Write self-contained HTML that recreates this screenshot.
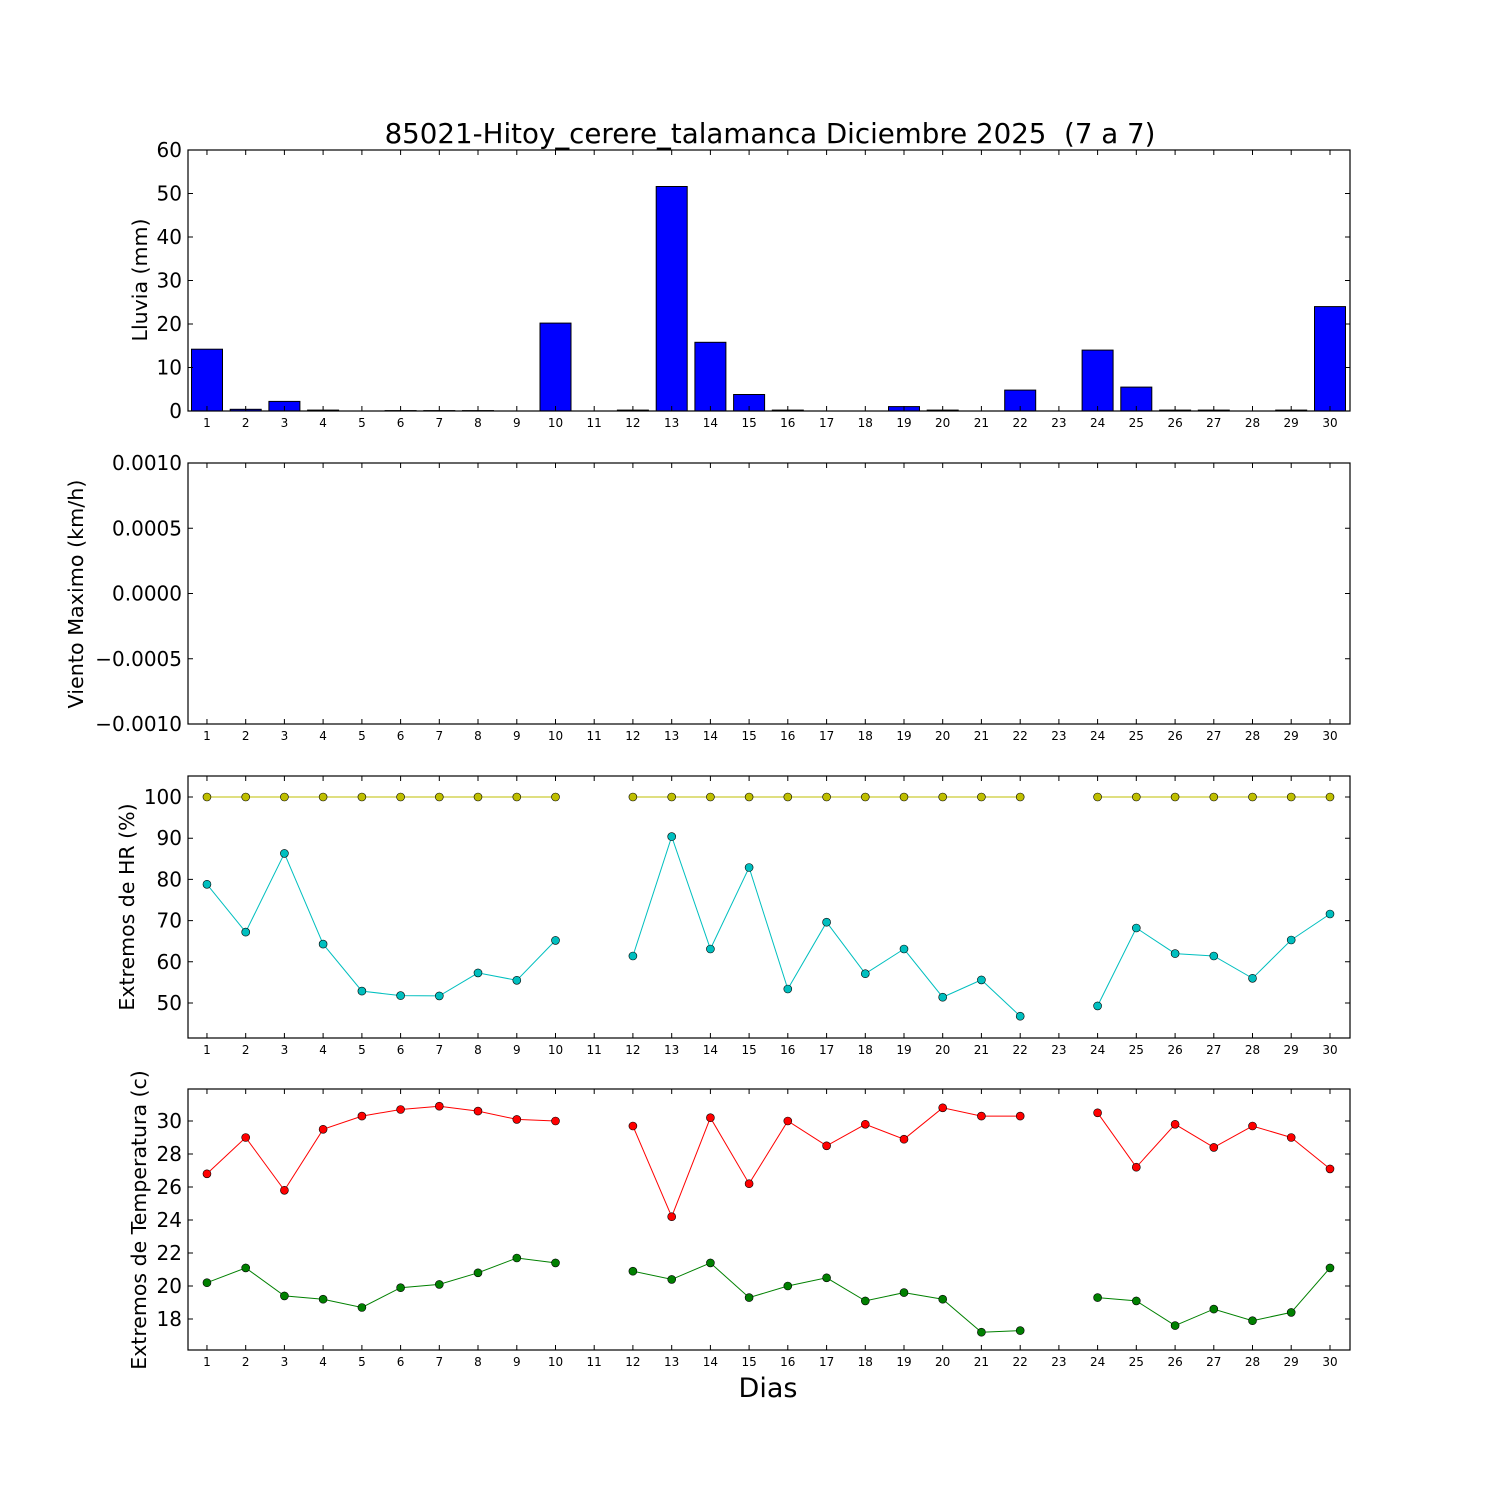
<!DOCTYPE html>
<html><head><meta charset="utf-8"><style>
html,body{margin:0;padding:0;background:#fff;}
svg{display:block;}
text{font-family:"DejaVu Sans","Liberation Sans",sans-serif;fill:#000;}
.xl{font-size:12px;text-anchor:middle;}
.yl{font-size:20px;text-anchor:end;}
.ax{fill:none;stroke:#000;stroke-width:1.2;}
.tk{fill:none;stroke:#000;stroke-width:1;}
</style></head><body>
<svg width="1500" height="1500" viewBox="0 0 1500 1500" xmlns="http://www.w3.org/2000/svg">
<defs>
<path id="xt" d="M206.96,0v-5M245.7,0v-5M284.4,0v-5M323.1,0v-5M361.9,0v-5M400.6,0v-5M439.3,0v-5M478,0v-5M516.8,0v-5M555.5,0v-5M594.2,0v-5M632.9,0v-5M671.7,0v-5M710.4,0v-5M749.1,0v-5M787.8,0v-5M826.6,0v-5M865.3,0v-5M904,0v-5M942.7,0v-5M981.4,0v-5M1020.2,0v-5M1058.9,0v-5M1097.6,0v-5M1136.3,0v-5M1175.1,0v-5M1213.8,0v-5M1252.5,0v-5M1291.2,0v-5M1330,0v-5" class="tk"/>
<g id="xlab">
<text x="207" class="xl">1</text><text x="245.7" class="xl">2</text><text x="284.4" class="xl">3</text><text x="323.1" class="xl">4</text><text x="361.9" class="xl">5</text><text x="400.6" class="xl">6</text><text x="439.3" class="xl">7</text><text x="478" class="xl">8</text><text x="516.8" class="xl">9</text><text x="555.5" class="xl">10</text><text x="594.2" class="xl">11</text><text x="632.9" class="xl">12</text><text x="671.7" class="xl">13</text><text x="710.4" class="xl">14</text><text x="749.1" class="xl">15</text><text x="787.8" class="xl">16</text><text x="826.6" class="xl">17</text><text x="865.3" class="xl">18</text><text x="904" class="xl">19</text><text x="942.7" class="xl">20</text><text x="981.4" class="xl">21</text><text x="1020.2" class="xl">22</text><text x="1058.9" class="xl">23</text><text x="1097.6" class="xl">24</text><text x="1136.3" class="xl">25</text><text x="1175.1" class="xl">26</text><text x="1213.8" class="xl">27</text><text x="1252.5" class="xl">28</text><text x="1291.2" class="xl">29</text><text x="1330" class="xl">30</text>
</g>
</defs>

<text x="770" y="143" style="font-size:27.7px;text-anchor:middle;white-space:pre" xml:space="preserve">85021-Hitoy_cerere_talamanca Diciembre 2025  (7 a 7)</text>

<!-- Panel 1 -->
<g fill="#0000ff" stroke="#000" stroke-width="1">
<rect x="191.5" y="349.2" width="31" height="61.8"/>
<rect x="230.2" y="409.3" width="31" height="1.7"/>
<rect x="268.9" y="401.4" width="31" height="9.6"/>
<rect x="307.6" y="410.1" width="31" height="0.9"/>
<rect x="385.1" y="410.6" width="31" height="0.4"/>
<rect x="423.8" y="410.6" width="31" height="0.4"/>
<rect x="462.5" y="410.6" width="31" height="0.4"/>
<rect x="540" y="323.1" width="31" height="87.9"/>
<rect x="617.4" y="410.1" width="31" height="0.9"/>
<rect x="656.2" y="186.5" width="31" height="224.5"/>
<rect x="694.9" y="342.3" width="31" height="68.7"/>
<rect x="733.6" y="394.5" width="31" height="16.5"/>
<rect x="772.3" y="410.1" width="31" height="0.9"/>
<rect x="888.5" y="406.6" width="31" height="4.4"/>
<rect x="927.2" y="410.1" width="31" height="0.9"/>
<rect x="1004.7" y="390.1" width="31" height="20.9"/>
<rect x="1082.1" y="350.1" width="31" height="60.9"/>
<rect x="1120.8" y="387.1" width="31" height="23.9"/>
<rect x="1159.6" y="410.1" width="31" height="0.9"/>
<rect x="1198.3" y="410.1" width="31" height="0.9"/>
<rect x="1275.7" y="410.1" width="31" height="0.9"/>
<rect x="1314.5" y="306.6" width="31" height="104.4"/>
</g>
<rect x="188" y="150" width="1162" height="261" class="ax"/>
<use href="#xt" transform="translate(0,411)"/>
<use href="#xt" transform="translate(0,150) scale(1,-1)"/>
<path class="tk" d="M188,367.5h5M188,324h5M188,280.5h5M188,237h5M188,193.5h5M1350,367.5h-5M1350,324h-5M1350,280.5h-5M1350,237h-5M1350,193.5h-5"/>
<text x="182" y="418" class="yl">0</text><text x="182" y="374.5" class="yl">10</text><text x="182" y="331" class="yl">20</text><text x="182" y="287.5" class="yl">30</text><text x="182" y="244" class="yl">40</text><text x="182" y="200.5" class="yl">50</text><text x="182" y="157" class="yl">60</text>
<use href="#xlab" transform="translate(0,427)"/>
<text transform="translate(147,280) rotate(-90)" style="font-size:20.5px;text-anchor:middle">Lluvia (mm)</text>

<!-- Panel 2 -->
<rect x="188" y="463" width="1162" height="261" class="ax"/>
<use href="#xt" transform="translate(0,724)"/>
<use href="#xt" transform="translate(0,463) scale(1,-1)"/>
<path class="tk" d="M188,528.25h5M188,593.5h5M188,658.75h5M1350,528.25h-5M1350,593.5h-5M1350,658.75h-5"/>
<text x="182" y="470" class="yl">0.0010</text><text x="182" y="535.25" class="yl">0.0005</text><text x="182" y="600.5" class="yl">0.0000</text><text x="182" y="665.75" class="yl">−0.0005</text><text x="182" y="731" class="yl">−0.0010</text>
<use href="#xlab" transform="translate(0,740)"/>
<text transform="translate(83,594) rotate(-90)" style="font-size:20.7px;text-anchor:middle">Viento Maximo (km/h)</text>

<!-- Panel 3 -->
<g stroke="#bfbf00" stroke-width="1" fill="none">
<path d="M206.96,797H555.5M632.9,797H1020.2M1097.6,797H1330"/>
</g>
<g fill="#bfbf00" stroke="#000" stroke-width="0.6">
<circle cx="206.96" cy="797" r="4"/><circle cx="245.7" cy="797" r="4"/><circle cx="284.4" cy="797" r="4"/><circle cx="323.1" cy="797" r="4"/><circle cx="361.9" cy="797" r="4"/><circle cx="400.6" cy="797" r="4"/><circle cx="439.3" cy="797" r="4"/><circle cx="478" cy="797" r="4"/><circle cx="516.8" cy="797" r="4"/><circle cx="555.5" cy="797" r="4"/>
<circle cx="632.9" cy="797" r="4"/><circle cx="671.7" cy="797" r="4"/><circle cx="710.4" cy="797" r="4"/><circle cx="749.1" cy="797" r="4"/><circle cx="787.8" cy="797" r="4"/><circle cx="826.6" cy="797" r="4"/><circle cx="865.3" cy="797" r="4"/><circle cx="904" cy="797" r="4"/><circle cx="942.7" cy="797" r="4"/><circle cx="981.4" cy="797" r="4"/><circle cx="1020.2" cy="797" r="4"/>
<circle cx="1097.6" cy="797" r="4"/><circle cx="1136.3" cy="797" r="4"/><circle cx="1175.1" cy="797" r="4"/><circle cx="1213.8" cy="797" r="4"/><circle cx="1252.5" cy="797" r="4"/><circle cx="1291.2" cy="797" r="4"/><circle cx="1330" cy="797" r="4"/>
</g>
<g stroke="#00bfbf" stroke-width="1" fill="none">
<polyline points="206.96,884.3 245.7,932.1 284.4,853.4 323.1,944.1 361.9,991.1 400.6,995.6 439.3,995.9 478,972.9 516.8,980.3 555.5,940.4"/>
<polyline points="632.9,956 671.7,836.6 710.4,949 749.1,867.5 787.8,989 826.6,922.2 865.3,973.7 904,949 942.7,997.2 981.4,979.9 1020.2,1016.2"/>
<polyline points="1097.6,1005.9 1136.3,928 1175.1,953.6 1213.8,956 1252.5,978.3 1291.2,940 1330,914"/>
</g>
<g fill="#00bfbf" stroke="#000" stroke-width="0.6">
<circle cx="206.96" cy="884.3" r="4"/><circle cx="245.7" cy="932.1" r="4"/><circle cx="284.4" cy="853.4" r="4"/><circle cx="323.1" cy="944.1" r="4"/><circle cx="361.9" cy="991.1" r="4"/><circle cx="400.6" cy="995.6" r="4"/><circle cx="439.3" cy="995.9" r="4"/><circle cx="478" cy="972.9" r="4"/><circle cx="516.8" cy="980.3" r="4"/><circle cx="555.5" cy="940.4" r="4"/>
<circle cx="632.9" cy="956" r="4"/><circle cx="671.7" cy="836.6" r="4"/><circle cx="710.4" cy="949" r="4"/><circle cx="749.1" cy="867.5" r="4"/><circle cx="787.8" cy="989" r="4"/><circle cx="826.6" cy="922.2" r="4"/><circle cx="865.3" cy="973.7" r="4"/><circle cx="904" cy="949" r="4"/><circle cx="942.7" cy="997.2" r="4"/><circle cx="981.4" cy="979.9" r="4"/><circle cx="1020.2" cy="1016.2" r="4"/>
<circle cx="1097.6" cy="1005.9" r="4"/><circle cx="1136.3" cy="928" r="4"/><circle cx="1175.1" cy="953.6" r="4"/><circle cx="1213.8" cy="956" r="4"/><circle cx="1252.5" cy="978.3" r="4"/><circle cx="1291.2" cy="940" r="4"/><circle cx="1330" cy="914" r="4"/>
</g>
<rect x="188" y="776" width="1162" height="262" class="ax"/>
<use href="#xt" transform="translate(0,1038)"/>
<use href="#xt" transform="translate(0,776) scale(1,-1)"/>
<path class="tk" d="M188,797h5M188,838.2h5M188,879.4h5M188,920.6h5M188,961.8h5M188,1003h5M1350,797h-5M1350,838.2h-5M1350,879.4h-5M1350,920.6h-5M1350,961.8h-5M1350,1003h-5"/>
<text x="182" y="804" class="yl">100</text><text x="182" y="845.2" class="yl">90</text><text x="182" y="886.4" class="yl">80</text><text x="182" y="927.6" class="yl">70</text><text x="182" y="968.8" class="yl">60</text><text x="182" y="1010" class="yl">50</text>
<use href="#xlab" transform="translate(0,1054)"/>
<text transform="translate(134,907) rotate(-90)" style="font-size:20.5px;text-anchor:middle">Extremos de HR (%)</text>

<!-- Panel 4 -->
<g stroke="#ff0000" stroke-width="1" fill="none">
<polyline points="206.96,1173.8 245.7,1137.5 284.4,1190.3 323.1,1129.3 361.9,1116.1 400.6,1109.5 439.3,1106.2 478,1111.1 516.8,1119.4 555.5,1121"/>
<polyline points="632.9,1126 671.7,1216.7 710.4,1117.7 749.1,1183.7 787.8,1121 826.6,1145.8 865.3,1124.3 904,1139.2 942.7,1107.8 981.4,1116.1 1020.2,1116.1"/>
<polyline points="1097.6,1112.8 1136.3,1167.2 1175.1,1124.3 1213.8,1147.4 1252.5,1126 1291.2,1137.5 1330,1168.9"/>
</g>
<g fill="#ff0000" stroke="#000" stroke-width="0.6">
<circle cx="206.96" cy="1173.8" r="4"/><circle cx="245.7" cy="1137.5" r="4"/><circle cx="284.4" cy="1190.3" r="4"/><circle cx="323.1" cy="1129.3" r="4"/><circle cx="361.9" cy="1116.1" r="4"/><circle cx="400.6" cy="1109.5" r="4"/><circle cx="439.3" cy="1106.2" r="4"/><circle cx="478" cy="1111.1" r="4"/><circle cx="516.8" cy="1119.4" r="4"/><circle cx="555.5" cy="1121" r="4"/>
<circle cx="632.9" cy="1126" r="4"/><circle cx="671.7" cy="1216.7" r="4"/><circle cx="710.4" cy="1117.7" r="4"/><circle cx="749.1" cy="1183.7" r="4"/><circle cx="787.8" cy="1121" r="4"/><circle cx="826.6" cy="1145.8" r="4"/><circle cx="865.3" cy="1124.3" r="4"/><circle cx="904" cy="1139.2" r="4"/><circle cx="942.7" cy="1107.8" r="4"/><circle cx="981.4" cy="1116.1" r="4"/><circle cx="1020.2" cy="1116.1" r="4"/>
<circle cx="1097.6" cy="1112.8" r="4"/><circle cx="1136.3" cy="1167.2" r="4"/><circle cx="1175.1" cy="1124.3" r="4"/><circle cx="1213.8" cy="1147.4" r="4"/><circle cx="1252.5" cy="1126" r="4"/><circle cx="1291.2" cy="1137.5" r="4"/><circle cx="1330" cy="1168.9" r="4"/>
</g>
<g stroke="#008000" stroke-width="1" fill="none">
<polyline points="206.96,1282.7 245.7,1267.9 284.4,1295.9 323.1,1299.2 361.9,1307.5 400.6,1287.7 439.3,1284.4 478,1272.8 516.8,1258 555.5,1262.9"/>
<polyline points="632.9,1271.2 671.7,1279.4 710.4,1262.9 749.1,1297.6 787.8,1286 826.6,1277.8 865.3,1300.9 904,1292.6 942.7,1299.2 981.4,1332.2 1020.2,1330.6"/>
<polyline points="1097.6,1297.6 1136.3,1300.9 1175.1,1325.6 1213.8,1309.1 1252.5,1320.7 1291.2,1312.4 1330,1267.9"/>
</g>
<g fill="#008000" stroke="#000" stroke-width="0.6">
<circle cx="206.96" cy="1282.7" r="4"/><circle cx="245.7" cy="1267.9" r="4"/><circle cx="284.4" cy="1295.9" r="4"/><circle cx="323.1" cy="1299.2" r="4"/><circle cx="361.9" cy="1307.5" r="4"/><circle cx="400.6" cy="1287.7" r="4"/><circle cx="439.3" cy="1284.4" r="4"/><circle cx="478" cy="1272.8" r="4"/><circle cx="516.8" cy="1258" r="4"/><circle cx="555.5" cy="1262.9" r="4"/>
<circle cx="632.9" cy="1271.2" r="4"/><circle cx="671.7" cy="1279.4" r="4"/><circle cx="710.4" cy="1262.9" r="4"/><circle cx="749.1" cy="1297.6" r="4"/><circle cx="787.8" cy="1286" r="4"/><circle cx="826.6" cy="1277.8" r="4"/><circle cx="865.3" cy="1300.9" r="4"/><circle cx="904" cy="1292.6" r="4"/><circle cx="942.7" cy="1299.2" r="4"/><circle cx="981.4" cy="1332.2" r="4"/><circle cx="1020.2" cy="1330.6" r="4"/>
<circle cx="1097.6" cy="1297.6" r="4"/><circle cx="1136.3" cy="1300.9" r="4"/><circle cx="1175.1" cy="1325.6" r="4"/><circle cx="1213.8" cy="1309.1" r="4"/><circle cx="1252.5" cy="1320.7" r="4"/><circle cx="1291.2" cy="1312.4" r="4"/><circle cx="1330" cy="1267.9" r="4"/>
</g>
<rect x="188" y="1089" width="1162" height="261" class="ax"/>
<use href="#xt" transform="translate(0,1350)"/>
<use href="#xt" transform="translate(0,1089) scale(1,-1)"/>
<path class="tk" d="M188,1121h5M188,1154h5M188,1187h5M188,1220h5M188,1253h5M188,1286h5M188,1319h5M1350,1121h-5M1350,1154h-5M1350,1187h-5M1350,1220h-5M1350,1253h-5M1350,1286h-5M1350,1319h-5"/>
<text x="182" y="1128" class="yl">30</text><text x="182" y="1161" class="yl">28</text><text x="182" y="1194" class="yl">26</text><text x="182" y="1227" class="yl">24</text><text x="182" y="1260" class="yl">22</text><text x="182" y="1293" class="yl">20</text><text x="182" y="1326" class="yl">18</text>
<use href="#xlab" transform="translate(0,1366)"/>
<text transform="translate(146,1220) rotate(-90)" style="font-size:20.5px;text-anchor:middle">Extremos de Temperatura (c)</text>
<text x="768" y="1397" style="font-size:27px;text-anchor:middle">Dias</text>
</svg>
</body></html>
